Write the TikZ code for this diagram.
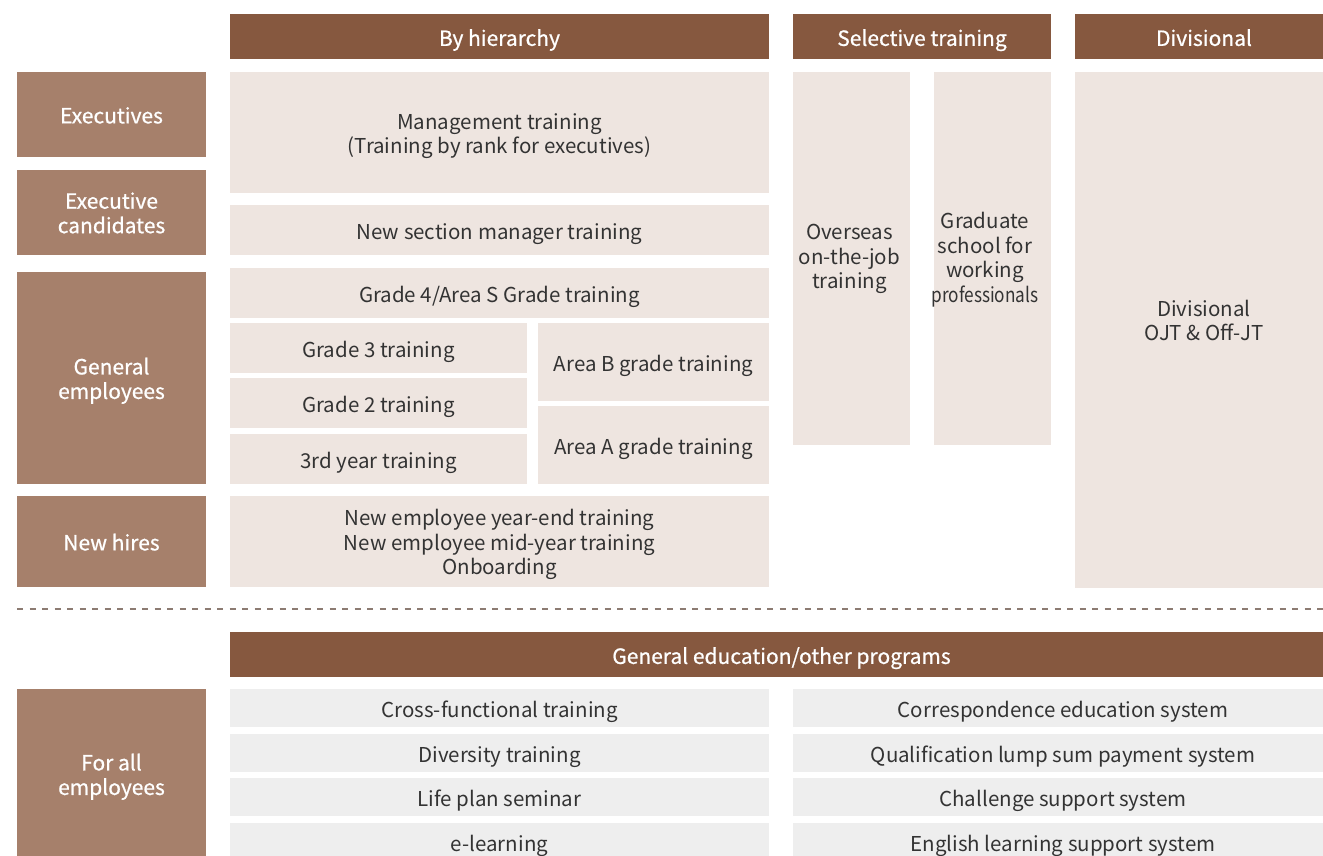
\documentclass[tikz,border=0pt]{standalone}
\usepackage{fontspec}
\setmainfont{Noto Sans CJK JP}
\newfontfamily\medfont{Noto Sans CJK JP}[FakeBold=0.7]
\definecolor{hdr}{HTML}{86583F}
\definecolor{lbl}{HTML}{A6806B}
\definecolor{pale}{HTML}{EEE5E0}
\definecolor{greycell}{HTML}{EEEEEE}
\definecolor{ink}{HTML}{333333}
\definecolor{dashcol}{HTML}{8C7B72}

\tikzset{
  cell/.style={anchor=north west, inner sep=0pt, outer sep=0pt},
  txt/.style={inner sep=0pt, align=center, text=ink,
              font=\fontsize{20.5}{24.5}\selectfont,
              execute at begin node=\strut, execute at end node=\strut},
  headtxt/.style={txt, text=white, font=\medfont\fontsize{21}{24.5}\selectfont},
  hdrbox/.style={cell, fill=hdr},
  hdrtext/.style={headtxt},
  lblbox/.style={cell, fill=lbl},
  lbltext/.style={headtxt},
  palebox/.style={cell, fill=pale},
  paletext/.style={txt},
  greybox/.style={cell, fill=greycell},
  greytext/.style={txt},
}
% [text offset] kind, name, left, top, right, bottom, text
\newcommand\cellbox[8][yshift=-4.5pt]{%
  \node[#2box, minimum width={(#6-#4)*1pt}, minimum height={(#7-#5)*1pt}] (#3) at (#4,#5) {};
  \node[#2text] (#3-t) at ([#1]#3.center) {#8};}

\begin{document}
\begin{tikzpicture}[x=1pt,y=-1pt]
\useasboundingbox (0,0) rectangle (1323,855);

% column headers (the right-hand column runs past the page edge)
\cellbox{hdr}{hHier}{230}{14}{769}{59}{By hierarchy}
\cellbox{hdr}{hSel}{793}{14}{1051}{59}{Selective training}
\cellbox{hdr}{hDiv}{1075}{14}{1333}{59}{Divisional}

% row labels
\cellbox[yshift=-4pt]{lbl}{lExec}{17}{72}{206}{157}{Executives}
\cellbox[yshift=-4pt]{lbl}{lCand}{17}{170}{206}{255}{Executive\\candidates}
\cellbox[yshift=-4pt]{lbl}{lGen}{17}{272}{206}{484}{General\\employees}
\cellbox[yshift=-4pt]{lbl}{lNew}{17}{496}{206}{587}{New hires}

% training by hierarchy
\cellbox{pale}{mgmt}{230}{72}{769}{193}{Management training\\(Training by rank for executives)}
\cellbox{pale}{sect}{230}{205}{769}{255}{New section manager training}
\cellbox{pale}{g4}{230}{268}{769}{318}{Grade 4/Area S Grade training}
\cellbox{pale}{g3}{230}{323}{527}{373}{Grade 3 training}
\cellbox{pale}{g2}{230}{378}{527}{428}{Grade 2 training}
\cellbox{pale}{y3}{230}{434}{527}{484}{3rd year training}
\cellbox{pale}{areaB}{538}{323}{769}{401}{Area B grade training}
\cellbox{pale}{areaA}{538}{406}{769}{484}{Area A grade training}
\cellbox{pale}{newemp}{230}{496}{769}{587}{New employee year-end training\\New employee mid-year training\\Onboarding}

% selective training
\cellbox[yshift=-2pt,xshift=-2pt]{pale}{overseas}{793}{72}{910}{445}{Overseas\\on-the-job\\training}
\cellbox[yshift=-2.5pt,xshift=-7.5pt]{pale}{grad}{934}{72}{1051}{445}{Graduate\\school for\\working\\\scalebox{0.84}[1]{professionals}}

% divisional
\node[palebox, minimum width=258pt, minimum height=516pt] (div) at (1075,72) {};
\node[paletext] (div-t) at (1204,324) {Divisional\\OJT \& Off-JT};

% separator
\coordinate (sepL) at (17,609);
\coordinate (sepR) at (1323,609);
\draw[dashcol, line width=1.3pt, dash pattern=on 6pt off 6.5pt] (sepL) -- (sepR);

% general education
\cellbox{hdr}{hGen}{230}{632}{1333}{677}{General education/other programs}
\node[lblbox, minimum width=189pt, minimum height=181pt] (lAll) at (17,689) {};
\node[lbltext] (lAll-t) at (111.5,778) {For all\\employees};

\cellbox{grey}{cross}{230}{689}{769}{727}{Cross-functional training}
\cellbox{grey}{divers}{230}{734}{769}{772}{Diversity training}
\cellbox{grey}{life}{230}{778}{769}{816}{Life plan seminar}
\node[greybox, minimum width=539pt, minimum height=40pt] (elearn) at (230,823) {};
\node[greytext] (elearn-t) at (499.5,846.5) {e-learning};

\cellbox{grey}{corr}{793}{689}{1333}{727}{Correspondence education system}
\cellbox{grey}{qual}{793}{734}{1333}{772}{Qualification lump sum payment system}
\cellbox{grey}{chal}{793}{778}{1333}{816}{Challenge support system}
\node[greybox, minimum width=540pt, minimum height=40pt] (engl) at (793,823) {};
\node[greytext] (engl-t) at (1063,846.5) {English learning support system};
\end{tikzpicture}
\end{document}
